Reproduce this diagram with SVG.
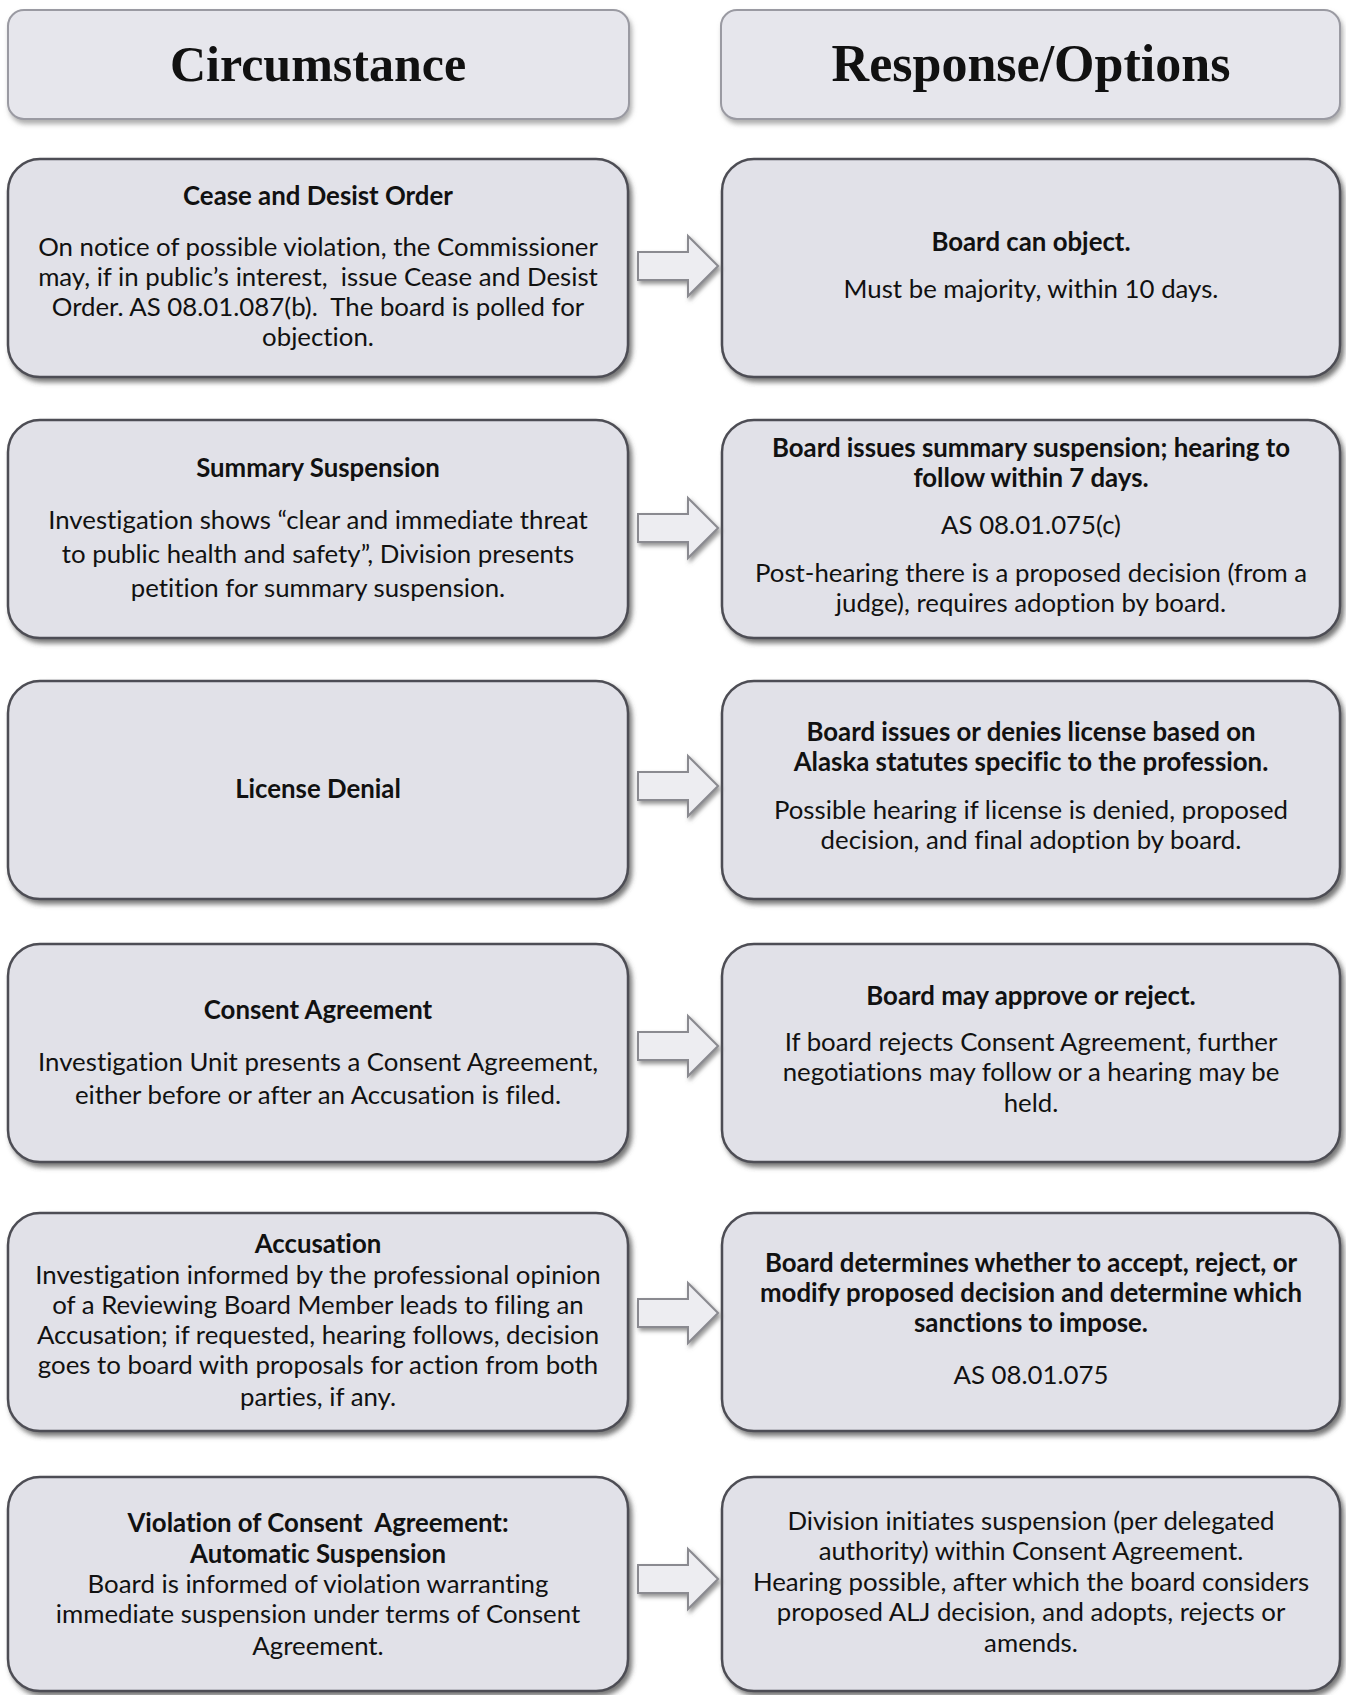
<svg xmlns="http://www.w3.org/2000/svg" width="1346" height="1695" viewBox="0 0 1346 1695">
<defs>
<filter id="sh" x="-5%" y="-5%" width="115%" height="120%">
<feDropShadow dx="3" dy="4" stdDeviation="2.5" flood-color="#4a4a4a" flood-opacity="0.75"/>
</filter>
<filter id="shl" x="-5%" y="-5%" width="115%" height="125%">
<feDropShadow dx="2" dy="4" stdDeviation="2.5" flood-color="#777" flood-opacity="0.6"/>
</filter>
<filter id="sha" x="-20%" y="-20%" width="150%" height="160%">
<feDropShadow dx="2" dy="3" stdDeviation="2" flood-color="#666" flood-opacity="0.7"/>
</filter>
<path id="arr" d="M0,-14 L50,-14 L50,-30 L80,0 L50,30 L50,14 L0,14 Z"/>
</defs>
<style>
.hdr{fill:#e6e6ec;stroke:#9a9aa2;stroke-width:2;filter:url(#shl)}
.box{fill:#e1e1e8;stroke:#4e4e54;stroke-width:2.5;filter:url(#sh)}
.ht{font-family:"Liberation Serif",serif;font-weight:bold;font-size:50px;fill:#111;text-anchor:middle}
.t{font-family:Lato,"Liberation Sans",sans-serif;font-size:25.8px;fill:#111;text-anchor:middle;font-variant-ligatures:none}
.b{font-weight:bold}
.pre{white-space:pre}
.arrow{fill:#ededf1;stroke:#8a8a90;stroke-width:2;filter:url(#sha)}
</style>
<rect width="1346" height="1695" fill="#ffffff"/>

<g id="header-circumstance">
<rect class="hdr" x="8" y="10" width="621" height="109" rx="16"/>
<text class="ht" x="318" y="81">Circumstance</text>
</g>
<g id="header-response">
<rect class="hdr" x="721" y="10" width="619" height="109" rx="16"/>
<text class="ht" x="1031" y="81" style="font-size:52px">Response/Options</text>
</g>

<g id="c1">
<rect class="box" x="8" y="159" width="620" height="218" rx="32"/>
<text class="t b" x="318" y="205">Cease and Desist Order</text>
<text class="t" x="318" y="256">On notice of possible violation, the Commissioner</text>
<text class="t pre" x="318" y="286">may, if in public’s interest,  issue Cease and Desist</text>
<text class="t pre" x="318" y="316">Order. AS 08.01.087(b).  The board is polled for</text>
<text class="t" x="318" y="346">objection.</text>
</g>
<g id="r1">
<rect class="box" x="722" y="159" width="618" height="218" rx="32"/>
<text class="t b" x="1031" y="251">Board can object.</text>
<text class="t" x="1031" y="298">Must be majority, within 10 days.</text>
</g>

<g id="c2">
<rect class="box" x="8" y="420" width="620" height="218" rx="32"/>
<text class="t b" x="318" y="477">Summary Suspension</text>
<text class="t" x="318" y="529">Investigation shows “clear and immediate threat</text>
<text class="t" x="318" y="563">to public health and safety”, Division presents</text>
<text class="t" x="318" y="597">petition for summary suspension.</text>
</g>
<g id="r2">
<rect class="box" x="722" y="420" width="618" height="218" rx="32"/>
<text class="t b" x="1031" y="457">Board issues summary suspension; hearing to</text>
<text class="t b" x="1031" y="487">follow within 7 days.</text>
<text class="t" x="1031" y="534">AS 08.01.075(c)</text>
<text class="t" x="1031" y="582">Post-hearing there is a proposed decision (from a</text>
<text class="t" x="1031" y="612">judge), requires adoption by board.</text>
</g>

<g id="c3">
<rect class="box" x="8" y="681" width="620" height="218" rx="32"/>
<text class="t b" x="318" y="798">License Denial</text>
</g>
<g id="r3">
<rect class="box" x="722" y="681" width="618" height="218" rx="32"/>
<text class="t b" x="1031" y="741">Board issues or denies license based on</text>
<text class="t b" x="1031" y="771">Alaska statutes specific to the profession.</text>
<text class="t" x="1031" y="819">Possible hearing if license is denied, proposed</text>
<text class="t" x="1031" y="849">decision, and final adoption by board.</text>
</g>

<g id="c4">
<rect class="box" x="8" y="944" width="620" height="218" rx="32"/>
<text class="t b" x="318" y="1019">Consent Agreement</text>
<text class="t" x="318" y="1071">Investigation Unit presents a Consent Agreement,</text>
<text class="t" x="318" y="1104">either before or after an Accusation is filed.</text>
</g>
<g id="r4">
<rect class="box" x="722" y="944" width="618" height="218" rx="32"/>
<text class="t b" x="1031" y="1005">Board may approve or reject.</text>
<text class="t" x="1031" y="1051">If board rejects Consent Agreement, further</text>
<text class="t" x="1031" y="1081">negotiations may follow or a hearing may be</text>
<text class="t" x="1031" y="1112">held.</text>
</g>

<g id="c5">
<rect class="box" x="8" y="1213" width="620" height="218" rx="32"/>
<text class="t b" x="318" y="1253">Accusation</text>
<text class="t" x="318" y="1284">Investigation informed by the professional opinion</text>
<text class="t" x="318" y="1314">of a Reviewing Board Member leads to filing an</text>
<text class="t" x="318" y="1344">Accusation; if requested, hearing follows, decision</text>
<text class="t" x="318" y="1374">goes to board with proposals for action from both</text>
<text class="t" x="318" y="1406">parties, if any.</text>
</g>
<g id="r5">
<rect class="box" x="722" y="1213" width="618" height="218" rx="32"/>
<text class="t b" x="1031" y="1272">Board determines whether to accept, reject, or</text>
<text class="t b" x="1031" y="1302">modify proposed decision and determine which</text>
<text class="t b" x="1031" y="1332">sanctions to impose.</text>
<text class="t" x="1031" y="1384">AS 08.01.075</text>
</g>

<g id="c6">
<rect class="box" x="8" y="1477" width="620" height="214" rx="32"/>
<text class="t b pre" x="318" y="1532">Violation of Consent  Agreement:</text>
<text class="t b" x="318" y="1563">Automatic Suspension</text>
<text class="t" x="318" y="1593">Board is informed of violation warranting</text>
<text class="t" x="318" y="1623">immediate suspension under terms of Consent</text>
<text class="t" x="318" y="1655">Agreement.</text>
</g>
<g id="r6">
<rect class="box" x="722" y="1477" width="618" height="214" rx="32"/>
<text class="t" x="1031" y="1530">Division initiates suspension (per delegated</text>
<text class="t" x="1031" y="1560">authority) within Consent Agreement.</text>
<text class="t" x="1031" y="1591">Hearing possible, after which the board considers</text>
<text class="t" x="1031" y="1621">proposed ALJ decision, and adopts, rejects or</text>
<text class="t" x="1031" y="1652">amends.</text>
</g>

<g id="connectors">
<use href="#arr" class="arrow" transform="translate(638,266)"/>
<use href="#arr" class="arrow" transform="translate(638,528)"/>
<use href="#arr" class="arrow" transform="translate(638,786)"/>
<use href="#arr" class="arrow" transform="translate(638,1046)"/>
<use href="#arr" class="arrow" transform="translate(638,1313)"/>
<use href="#arr" class="arrow" transform="translate(638,1579)"/>
</g>
</svg>
